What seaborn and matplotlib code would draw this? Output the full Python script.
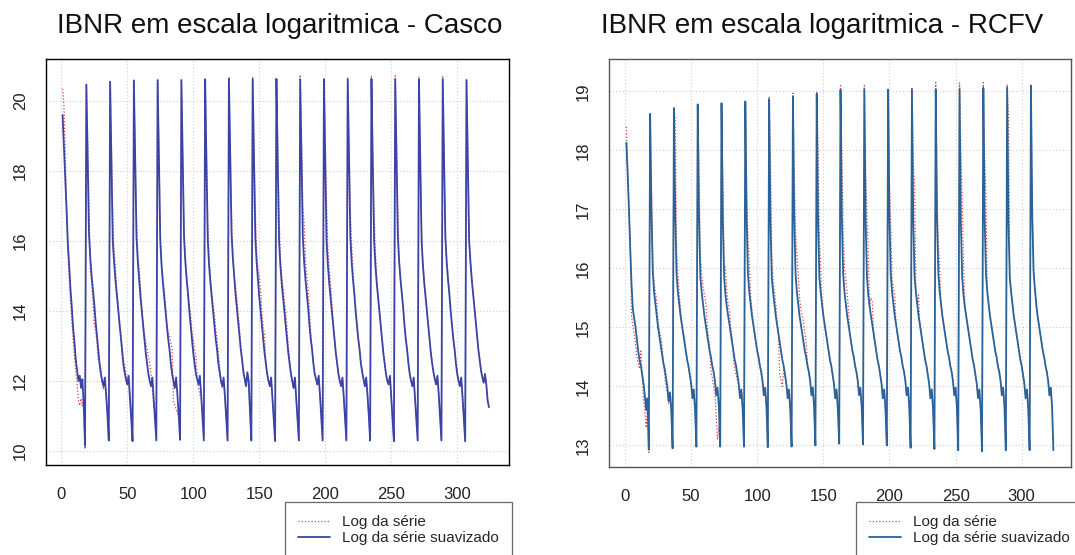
import numpy as np
import matplotlib
matplotlib.use("Agg")
import matplotlib.pyplot as plt
import seaborn as sns

# ---------------- data (18 cycles x 18 points) ----------------
casco_serie = [
    [20.35, 19.90, 18.60, 17.00, 15.70, 14.90, 14.30, 13.70, 13.20, 12.70, 12.30, 11.90, 11.45, 11.30, 11.50, 11.30, 11.45, 10.05],
    [20.45, 18.90, 17.00, 15.20, 14.80, 14.30, 13.60, 13.45, 13.10, 12.60, 12.50, 12.35, 11.95, 11.75, 12.00, 11.70, 11.20, 10.95],
    [20.58, 18.60, 16.80, 15.70, 15.30, 14.60, 14.20, 13.50, 13.40, 13.00, 12.60, 12.45, 12.20, 12.00, 12.10, 11.70, 11.10, 10.40],
    [20.62, 18.50, 16.60, 15.60, 15.20, 14.70, 14.10, 13.55, 13.30, 13.10, 12.90, 12.70, 12.50, 12.20, 11.80, 11.30, 11.10, 11.10],
    [20.62, 18.40, 16.30, 15.30, 14.90, 14.60, 14.10, 13.50, 13.40, 13.30, 13.10, 12.90, 11.40, 11.30, 11.20, 11.10, 11.00, 10.60],
    [20.60, 18.40, 16.40, 15.50, 15.00, 14.40, 14.20, 13.90, 13.40, 13.20, 12.90, 12.70, 12.10, 11.80, 11.60, 11.50, 11.00, 10.40],
    [20.62, 18.60, 16.50, 15.50, 15.00, 14.50, 14.20, 13.90, 13.50, 13.20, 12.80, 12.40, 12.00, 11.80, 12.00, 11.50, 10.90, 10.30],
    [20.65, 18.80, 16.70, 15.60, 15.00, 14.70, 14.40, 13.90, 13.50, 13.00, 12.60, 12.30, 12.10, 11.90, 12.20, 11.90, 11.10, 10.30],
    [20.70, 18.70, 16.90, 15.60, 15.20, 15.00, 14.60, 14.00, 13.50, 13.35, 12.50, 12.20, 12.00, 11.85, 12.10, 11.50, 10.90, 10.28],
    [20.68, 18.75, 16.80, 15.50, 15.00, 14.70, 14.30, 14.00, 13.50, 13.00, 12.60, 12.20, 12.00, 11.80, 12.10, 11.50, 10.90, 10.30],
    [20.75, 18.80, 17.00, 16.50, 15.50, 15.00, 14.60, 14.00, 13.40, 12.90, 12.50, 12.20, 12.05, 11.90, 12.15, 11.60, 10.95, 10.30],
    [20.65, 18.90, 17.00, 15.80, 15.20, 14.80, 14.20, 13.70, 13.20, 12.80, 12.50, 12.20, 12.00, 11.85, 12.10, 11.55, 10.90, 10.30],
    [20.65, 18.70, 16.80, 15.90, 15.10, 14.60, 14.10, 13.60, 13.20, 12.90, 12.50, 12.25, 12.05, 11.85, 12.10, 11.60, 11.00, 10.30],
    [20.72, 18.40, 16.80, 15.70, 14.90, 14.40, 14.00, 13.60, 13.20, 12.80, 12.50, 12.20, 12.00, 11.90, 12.15, 11.55, 10.90, 10.28],
    [20.72, 18.70, 16.80, 15.40, 14.90, 14.50, 14.10, 13.60, 13.20, 12.90, 12.50, 12.20, 12.00, 11.85, 12.10, 11.50, 10.90, 10.30],
    [20.70, 18.70, 16.20, 15.30, 14.80, 14.40, 14.00, 13.60, 13.20, 12.80, 12.50, 12.25, 12.05, 11.90, 12.15, 11.60, 10.95, 10.30],
    [20.72, 18.50, 16.10, 15.40, 14.90, 14.50, 14.00, 13.60, 13.20, 12.90, 12.50, 12.20, 12.00, 11.85, 12.10, 11.55, 10.90, 10.28],
    [20.60, 18.20, 16.00, 15.40, 14.90, 14.50, 14.10, 13.70, 13.30, 12.90, 12.60, 12.30, 12.10, 11.95, 12.20, 11.90, 11.45, 11.25],
]

casco_suav = [
    [19.60, 18.70, 17.80, 16.90, 15.90, 15.30, 14.60, 14.10, 13.50, 13.10, 12.60, 12.30, 12.00, 12.15, 11.80, 12.05, 11.30, 10.15],
    [20.47, 18.30, 16.20, 15.50, 15.00, 14.60, 14.20, 13.70, 13.30, 12.90, 12.50, 12.20, 12.00, 11.85, 12.10, 11.60, 11.00, 10.30],
    [20.55, 18.20, 16.00, 15.40, 14.90, 14.50, 14.10, 13.70, 13.30, 12.90, 12.50, 12.25, 12.05, 11.90, 12.15, 11.55, 10.90, 10.28],
    [20.58, 18.30, 16.10, 15.40, 14.90, 14.40, 14.00, 13.60, 13.20, 12.80, 12.50, 12.20, 12.00, 11.85, 12.10, 11.50, 10.90, 10.30],
    [20.60, 18.20, 16.00, 15.30, 14.80, 14.40, 14.00, 13.60, 13.20, 12.90, 12.50, 12.20, 12.00, 11.80, 12.10, 11.60, 11.00, 10.32],
    [20.60, 18.30, 16.10, 15.40, 14.90, 14.50, 14.00, 13.60, 13.20, 12.80, 12.50, 12.20, 12.05, 11.90, 12.15, 11.60, 10.95, 10.30],
    [20.62, 18.20, 16.00, 15.30, 14.80, 14.40, 14.00, 13.60, 13.20, 12.90, 12.50, 12.25, 12.00, 11.85, 12.10, 11.55, 10.90, 10.30],
    [20.65, 18.40, 16.20, 15.50, 15.00, 14.50, 14.10, 13.70, 13.30, 12.90, 12.60, 12.25, 12.05, 11.85, 12.25, 12.00, 11.10, 10.30],
    [20.62, 18.30, 16.10, 15.40, 14.90, 14.40, 14.00, 13.60, 13.20, 12.80, 12.50, 12.20, 12.00, 11.85, 12.10, 11.50, 10.90, 10.28],
    [20.63, 18.20, 16.00, 15.30, 14.80, 14.40, 14.00, 13.60, 13.20, 12.80, 12.50, 12.20, 12.00, 11.80, 12.10, 11.50, 10.90, 10.30],
    [20.62, 18.30, 16.10, 15.40, 14.90, 14.50, 14.10, 13.60, 13.20, 12.90, 12.50, 12.20, 12.05, 11.90, 12.15, 11.60, 10.95, 10.30],
    [20.62, 18.20, 16.00, 15.30, 14.80, 14.40, 14.00, 13.60, 13.20, 12.80, 12.50, 12.20, 12.00, 11.85, 12.10, 11.55, 10.90, 10.30],
    [20.62, 18.30, 16.10, 15.40, 14.90, 14.50, 14.00, 13.60, 13.20, 12.90, 12.50, 12.25, 12.05, 11.85, 12.10, 11.60, 11.00, 10.30],
    [20.63, 18.20, 16.00, 15.30, 14.80, 14.40, 14.00, 13.60, 13.20, 12.80, 12.50, 12.20, 12.00, 11.90, 12.15, 11.55, 10.90, 10.28],
    [20.62, 18.30, 16.10, 15.40, 14.90, 14.50, 14.10, 13.60, 13.20, 12.90, 12.50, 12.20, 12.00, 11.85, 12.10, 11.50, 10.90, 10.30],
    [20.62, 18.20, 16.00, 15.30, 14.80, 14.40, 14.00, 13.60, 13.20, 12.80, 12.50, 12.25, 12.05, 11.90, 12.15, 11.60, 10.95, 10.30],
    [20.62, 18.30, 16.10, 15.40, 14.90, 14.50, 14.00, 13.60, 13.20, 12.90, 12.50, 12.20, 12.00, 11.85, 12.10, 11.55, 10.90, 10.28],
    [20.60, 18.20, 16.00, 15.40, 14.90, 14.50, 14.10, 13.70, 13.30, 12.90, 12.60, 12.30, 12.10, 11.95, 12.20, 11.90, 11.45, 11.25],
]

rcfv_serie = [
    [18.40, 17.80, 16.90, 16.50, 15.20, 15.00, 14.90, 14.70, 14.50, 14.40, 14.30, 14.60, 14.20, 13.80, 13.60, 13.30, 13.60, 12.88],
    [18.60, 17.30, 16.10, 15.75, 15.60, 15.45, 15.10, 14.95, 14.85, 14.70, 14.40, 14.20, 14.00, 13.90, 13.70, 13.80, 13.60, 13.00],
    [18.68, 18.55, 16.30, 15.90, 15.55, 15.30, 15.05, 14.90, 14.80, 14.60, 14.45, 14.30, 14.20, 14.05, 13.95, 13.90, 13.60, 12.98],
    [18.80, 17.60, 16.20, 15.90, 15.70, 15.55, 15.45, 15.10, 14.85, 14.70, 14.25, 14.15, 14.00, 13.90, 13.50, 13.10, 13.30, 13.00],
    [18.80, 17.40, 16.10, 16.00, 15.60, 15.40, 15.30, 15.00, 14.80, 14.50, 14.30, 14.20, 14.10, 14.00, 13.85, 13.90, 13.60, 12.98],
    [18.83, 17.30, 16.50, 16.10, 15.55, 15.30, 15.10, 14.90, 14.75, 14.60, 14.45, 14.40, 14.20, 14.05, 13.85, 13.95, 13.65, 12.97],
    [18.90, 17.80, 16.20, 15.80, 15.60, 15.40, 15.10, 14.90, 14.20, 14.10, 14.00, 14.30, 14.20, 14.05, 13.85, 13.95, 13.65, 12.98],
    [18.97, 17.60, 16.60, 16.20, 15.90, 15.50, 15.30, 15.20, 15.10, 14.90, 14.75, 14.40, 14.25, 14.10, 13.90, 14.00, 13.70, 13.00],
    [18.98, 18.10, 16.50, 16.00, 15.40, 15.20, 15.05, 14.90, 14.75, 14.60, 14.45, 14.35, 14.20, 14.05, 13.80, 13.95, 13.60, 13.03],
    [19.10, 18.00, 16.60, 16.00, 15.80, 15.60, 15.30, 14.90, 14.75, 14.60, 14.50, 14.35, 14.25, 14.10, 13.85, 13.98, 13.65, 13.02],
    [19.10, 17.60, 16.90, 16.20, 15.35, 15.50, 15.45, 14.90, 14.75, 14.60, 14.45, 14.35, 14.20, 14.05, 13.80, 13.95, 13.60, 13.00],
    [19.05, 17.40, 16.70, 15.80, 15.65, 15.55, 15.05, 14.90, 14.75, 14.60, 14.50, 14.35, 14.25, 14.10, 13.85, 13.98, 13.65, 12.96],
    [19.05, 17.80, 17.40, 15.60, 15.40, 15.55, 15.05, 14.90, 14.75, 14.60, 14.45, 14.35, 14.20, 14.05, 13.80, 13.95, 13.60, 12.94],
    [19.15, 17.20, 16.40, 16.00, 15.40, 15.20, 15.05, 14.90, 14.75, 14.60, 14.50, 14.35, 14.25, 14.10, 13.85, 13.98, 13.65, 12.92],
    [19.15, 18.00, 17.20, 16.10, 15.35, 15.20, 15.05, 14.90, 14.75, 14.60, 14.45, 14.35, 14.20, 14.05, 13.80, 13.95, 13.60, 12.90],
    [19.15, 17.90, 17.20, 15.60, 15.40, 15.20, 15.05, 14.90, 14.75, 14.60, 14.50, 14.35, 14.25, 14.10, 13.85, 13.98, 13.65, 12.92],
    [19.12, 18.60, 15.85, 15.60, 15.40, 15.20, 15.05, 14.90, 14.75, 14.60, 14.45, 14.35, 14.20, 14.05, 13.80, 13.95, 13.60, 12.92],
    [19.10, 16.90, 15.95, 15.65, 15.40, 15.20, 15.05, 14.90, 14.75, 14.60, 14.50, 14.35, 14.25, 14.10, 13.85, 13.98, 13.65, 12.92],
]

rcfv_suav = [
    [18.13, 17.60, 17.00, 16.30, 15.70, 15.30, 15.15, 15.00, 14.80, 14.60, 14.45, 14.35, 14.20, 14.05, 13.85, 13.60, 13.80, 12.93],
    [18.62, 17.00, 15.95, 15.60, 15.40, 15.20, 15.00, 14.85, 14.70, 14.55, 14.40, 14.30, 14.15, 14.00, 13.75, 13.90, 13.60, 12.95],
    [18.72, 16.90, 15.90, 15.60, 15.40, 15.20, 15.05, 14.90, 14.75, 14.60, 14.45, 14.35, 14.20, 14.05, 13.80, 13.95, 13.60, 12.98],
    [18.78, 16.85, 15.85, 15.60, 15.40, 15.20, 15.05, 14.90, 14.75, 14.60, 14.50, 14.35, 14.25, 14.10, 13.85, 13.98, 13.65, 12.98],
    [18.80, 16.80, 15.85, 15.55, 15.35, 15.20, 15.05, 14.90, 14.75, 14.60, 14.45, 14.35, 14.20, 14.05, 13.80, 13.95, 13.60, 12.98],
    [18.83, 16.85, 15.90, 15.60, 15.40, 15.20, 15.05, 14.90, 14.75, 14.60, 14.50, 14.35, 14.25, 14.10, 13.85, 13.98, 13.65, 12.97],
    [18.87, 16.80, 15.85, 15.60, 15.40, 15.20, 15.05, 14.90, 14.75, 14.60, 14.45, 14.35, 14.20, 14.05, 13.80, 13.95, 13.60, 12.98],
    [18.92, 16.85, 15.90, 15.60, 15.40, 15.20, 15.05, 14.90, 14.75, 14.60, 14.50, 14.35, 14.25, 14.10, 13.85, 13.98, 13.65, 13.00],
    [18.96, 16.80, 15.85, 15.60, 15.40, 15.20, 15.05, 14.90, 14.75, 14.60, 14.45, 14.35, 14.20, 14.05, 13.80, 13.95, 13.60, 13.03],
    [19.03, 16.85, 15.90, 15.60, 15.40, 15.20, 15.05, 14.90, 14.75, 14.60, 14.50, 14.35, 14.25, 14.10, 13.85, 13.98, 13.65, 13.02],
    [19.04, 16.80, 15.85, 15.55, 15.35, 15.20, 15.05, 14.90, 14.75, 14.60, 14.45, 14.35, 14.20, 14.05, 13.80, 13.95, 13.60, 13.00],
    [19.03, 16.85, 15.90, 15.60, 15.40, 15.20, 15.05, 14.90, 14.75, 14.60, 14.50, 14.35, 14.25, 14.10, 13.85, 13.98, 13.65, 12.96],
    [19.03, 16.80, 15.85, 15.60, 15.40, 15.20, 15.05, 14.90, 14.75, 14.60, 14.45, 14.35, 14.20, 14.05, 13.80, 13.95, 13.60, 12.94],
    [19.03, 16.85, 15.90, 15.60, 15.40, 15.20, 15.05, 14.90, 14.75, 14.60, 14.50, 14.35, 14.25, 14.10, 13.85, 13.98, 13.65, 12.92],
    [19.04, 16.80, 15.85, 15.55, 15.35, 15.20, 15.05, 14.90, 14.75, 14.60, 14.45, 14.35, 14.20, 14.05, 13.80, 13.95, 13.60, 12.90],
    [19.06, 16.85, 15.90, 15.60, 15.40, 15.20, 15.05, 14.90, 14.75, 14.60, 14.50, 14.35, 14.25, 14.10, 13.85, 13.98, 13.65, 12.92],
    [19.07, 16.80, 15.85, 15.60, 15.40, 15.20, 15.05, 14.90, 14.75, 14.60, 14.45, 14.35, 14.20, 14.05, 13.80, 13.95, 13.60, 12.92],
    [19.10, 16.90, 15.95, 15.65, 15.40, 15.20, 15.05, 14.90, 14.75, 14.60, 14.50, 14.35, 14.25, 14.10, 13.85, 13.98, 13.65, 12.92],
]

titles = ["IBNR em escala logaritmica - Casco", "IBNR em escala logaritmica - RCFV"]
legend_labels = ["Log da série", "Log da série suavizado"]
x_ticks = [0, 50, 100, 150, 200, 250, 300]
y_ticks_casco = [10, 12, 14, 16, 18, 20]
y_ticks_rcfv = [13, 14, 15, 16, 17, 18, 19]

# ---------------- styling ----------------
sns.set_style("white")
plt.rcParams["font.family"] = ["Liberation Sans", "DejaVu Sans"]

W, H = 1075, 555
fig = plt.figure(figsize=(W / 100, H / 100), dpi=100)


def fx(px):
    return px / W


def fy(py):
    return 1 - py / H


ax1 = fig.add_axes([fx(45.7), fy(465), fx(509) - fx(45.7), fy(59) - fy(465)])
ax2 = fig.add_axes([fx(609), fy(466.7), fx(1071) - fx(609), fy(59) - fy(466.7)])

panels = [
    (ax1, casco_serie, casco_suav, "#3a44a6", "black", y_ticks_casco, (9.6, 21.2), (-11.8, 339.2), 285),
    (ax2, rcfv_serie, rcfv_suav, "#2a6399", "#555555", y_ticks_rcfv, (12.64, 19.55), (-12.1, 337.3), 856),
]

for ax, serie, suav, bcol, frame_col, yt, ylim, xlim, legx in panels:
    s = np.concatenate([np.asarray(c, dtype=float) for c in serie])
    m = np.concatenate([np.asarray(c, dtype=float) for c in suav])
    xs = np.arange(1, len(s) + 1)
    xm = np.arange(1, len(m) + 1)

    ax.set_xticks(x_ticks)
    ax.set_yticks(yt)
    ax.grid(True, color="#cfcfcf", linestyle=(0, (1, 2)), linewidth=0.8)
    ax.set_axisbelow(True)

    sns.lineplot(x=xs, y=s, ax=ax, color="#e0413f", linewidth=0.9,
                 linestyle=(0, (1, 1.6)), estimator=None, sort=False, zorder=2)
    sns.lineplot(x=xm, y=m, ax=ax, color=bcol, linewidth=1.3,
                 estimator=None, sort=False, zorder=3)

    ax.set_xlim(*xlim)
    ax.set_ylim(*ylim)
    ax.set_xlabel("")
    ax.set_ylabel("")
    for sp in ax.spines.values():
        sp.set_visible(True)
        sp.set_color(frame_col)
        sp.set_linewidth(1.0)
    ax.tick_params(axis="both", direction="out", length=6, width=0.9,
                   color="#222222", labelsize=12, labelcolor="#222222")
    ax.tick_params(axis="x", pad=10)
    ax.tick_params(axis="y", pad=7)
    for lab in ax.get_yticklabels():
        lab.set_rotation(90)
        lab.set_va("center")

    lines = ax.get_lines()
    leg = ax.legend(lines[:2], legend_labels, loc="upper left",
                    bbox_to_anchor=(fx(legx), fy(502)), bbox_transform=fig.transFigure,
                    frameon=True, fancybox=False, fontsize=11, handlelength=2.1,
                    handletextpad=0.8, borderpad=0.85, labelspacing=0.15,
                    borderaxespad=0)
    leg.get_frame().set_edgecolor("#444444")
    leg.get_frame().set_linewidth(0.9)
    leg.set_clip_on(False)

for title, cx in zip(titles, [280, 822]):
    fig.text(fx(cx), fy(26), title, ha="center", va="center", fontsize=20, color="#111111")

fig.savefig("out.png", dpi=100)
